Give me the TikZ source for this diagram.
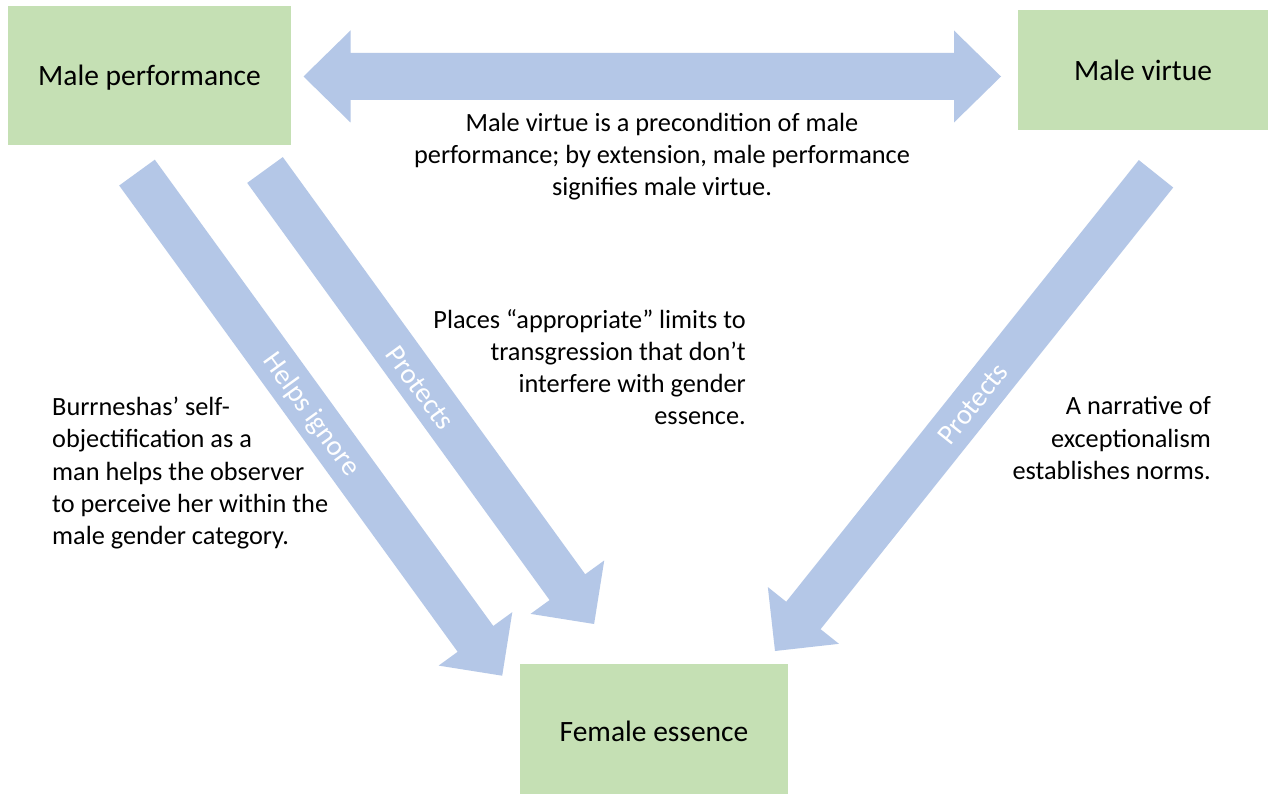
\documentclass[tikz,border=0pt]{standalone}
\usepackage{fontspec}
\setmainfont{Carlito}
\usetikzlibrary{calc}

\definecolor{boxgreen}{RGB}{197,224,180}
\definecolor{arrowblue}{RGB}{180,199,231}

\tikzset{
  concept/.style={fill=boxgreen, inner sep=0pt, font=\fontsize{29.5}{36}\selectfont},
  note/.style={inner sep=0pt, font=\fontsize{26.3}{32.2}\selectfont},
  arrowlabel/.style={inner sep=0pt, text=white, font=\fontsize{28.5}{34}\selectfont},
  arrowfill/.style={fill=arrowblue},
}

% Block arrow from tail #1 to tip #2; #3 names the head-base point.
\newcommand\blockarrow[3]{%
  \coordinate (#3) at ($(#2)!45.5pt!(#1)$);
  \fill[arrowfill]
    ($(#1)!22pt!90:(#2)$) -- ($(#3)!22pt!90:(#2)$) -- ($(#3)!45.5pt!90:(#2)$)
    -- (#2)
    -- ($(#3)!45.5pt!-90:(#2)$) -- ($(#3)!22pt!-90:(#2)$) -- ($(#1)!22pt!-90:(#2)$)
    -- cycle;}

\begin{document}
\begin{tikzpicture}[x=1pt,y=-1pt]
  \path[use as bounding box, fill=white] (0,0) rectangle (1270,794);

  % concepts
  \fill[boxgreen] (8,6) rectangle (291,145);
  \node[concept, fill=none] (perf) at (149.5,77.5) {Male performance};
  \node[concept, minimum width=250pt, minimum height=120pt] (virtue) at (1143,70) {Male virtue};
  \fill[boxgreen] (520,664) rectangle (788,794);
  \node[concept, fill=none] (essence) at (654,731) {Female essence};

  % two-headed arrow between performance and virtue
  \coordinate (dl) at (303.5,76.5);
  \coordinate (dr) at (1001,76.5);
  \fill[arrowfill] (dl) -- ++(47,-46) -- ++(0,22.5) -- ($(dr)+(-47,-23.5)$) -- ++(0,-22.5)
    -- (dr) -- ++(-47,46) -- ++(0,-22.5) -- ($(dl)+(47,23.5)$) -- ++(0,22.5) -- cycle;

  % arrows towards female essence
  \coordinate (a1t) at (137,172.6);
  \coordinate (a1h) at (502.2,675.7);
  \coordinate (a2t) at (265,170);
  \coordinate (a2h) at (594.1,624);
  \coordinate (a3t) at (1156,173.8);
  \coordinate (a3h) at (775,651);
  \blockarrow{a1t}{a1h}{a1b}
  \blockarrow{a2t}{a2h}{a2b}
  \blockarrow{a3t}{a3h}{a3b}

  \node[arrowlabel, rotate=-54] (l1) at (311,415) {Helps ignore};
  \node[arrowlabel, rotate=-54] (l2) at (420,388) {Protects};
  \node[arrowlabel, rotate=51.4] (l3) at (973,404) {Protects};

  % explanatory notes
  \node[note, align=center, anchor=north] (n1) at (662,113)
    {Male virtue is a precondition of male\\performance; by extension, male performance\\signifies male virtue.};
  \node[note, align=right, anchor=north east] (n2) at (746,309)
    {Places “appropriate” limits to\\transgression that don’t\\interfere with gender\\essence.};
  \node[note, align=left, anchor=north west] (n3) at (52,397)
    {Burrneshas’ self-\\objectification as a\\man helps the observer\\to perceive her within the\\male gender category.};
  \node[note, align=right, anchor=north east] (n4) at (1211,396.5)
    {A narrative of\\exceptionalism\\establishes norms.};
\end{tikzpicture}
\end{document}
